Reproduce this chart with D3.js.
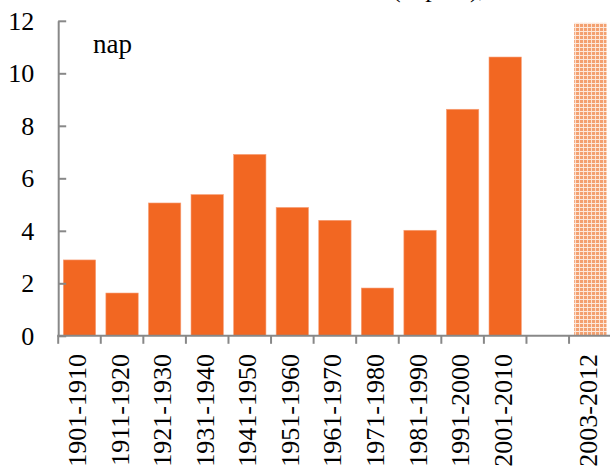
<!DOCTYPE html>
<html>
<head>
<meta charset="utf-8">
<script src="https://cdn.jsdelivr.net/npm/d3@7"></script>
<style>
  body { margin: 0; background: #fff; }
</style>
</head>
<body>
<div class="chart"></div>
<script>
// Data
const periods = ['1901-1910', '1911-1920', '1921-1930', '1931-1940', '1941-1950', '1951-1960',
    '1961-1970', '1971-1980', '1981-1990', '1991-2000', '2001-2010', '', '2003-2012'];
const values = [2.89, 1.63, 5.06, 5.38, 6.91, 4.89, 4.40, 1.82, 4.02, 8.63, 10.62, null, 11.92];
const hatched = ['2003-2012'];
const yTicks = [0, 2, 4, 6, 8, 10, 12];

const width = 610, height = 468;
const margin = { top: 20.8, left: 58.2, bottom: 132.2 };
const step = 42.57;
const serif = 'Liberation Serif';

const svg = d3.select('.chart').append('svg')
    .attr('width', width)
    .attr('height', height);

// hatched fill for the last bar
const pat = svg.append('defs').append('pattern')
    .attr('id', 'hatch')
    .attr('patternUnits', 'userSpaceOnUse')
    .attr('width', 4).attr('height', 4);
pat.append('rect').attr('width', 4).attr('height', 4).attr('fill', '#f3a070');
pat.append('rect').attr('x', 3).attr('width', 1).attr('height', 4).attr('fill', '#fbe0cf');
pat.append('rect').attr('y', 3).attr('width', 4).attr('height', 1).attr('fill', '#fde9dc');

// Scales
const x = d3.scaleBand()
    .domain(periods)
    .range([margin.left, margin.left + step * periods.length])
    .paddingInner(0.24)
    .paddingOuter(0.12);
const y = d3.scaleLinear().domain([0, 12]).range([height - margin.bottom, margin.top]);

// Bars
svg.selectAll('.bar')
    .data(periods.map((p, i) => ({ p, v: values[i] })).filter(d => d.v != null))
    .join('rect')
    .attr('class', 'bar')
    .attr('x', d => x(d.p))
    .attr('y', d => y(d.v))
    .attr('width', x.bandwidth())
    .attr('height', d => y(0) - y(d.v))
    .attr('fill', d => hatched.includes(d.p) ? 'url(#hatch)' : '#f26722')
    .attr('stroke', d => hatched.includes(d.p) ? 'none' : '#f7a17a')
    .attr('stroke-width', 0.6);

// Y axis (ticks point inward)
const yAxis = svg.append('g')
    .attr('transform', `translate(${margin.left},0)`)
    .call(d3.axisLeft(y).tickValues(yTicks).tickSize(-8).tickPadding(24).tickSizeOuter(0))
    .attr('font-family', serif)
    .attr('font-size', 26);
yAxis.select('.domain').attr('stroke', '#888').attr('stroke-width', 2);
yAxis.selectAll('.tick line').attr('stroke', '#888').attr('stroke-width', 2);
yAxis.selectAll('.tick text').attr('fill', '#000');

// X axis line and boundary ticks
const x0 = y(0);
svg.append('line')
    .attr('x1', margin.left - 1).attr('x2', width)
    .attr('y1', x0).attr('y2', x0)
    .attr('stroke', '#888').attr('stroke-width', 2);
const bounds = periods.map(p => x(p) - x.step() * 0.12);
svg.selectAll('.xtick')
    .data(bounds)
    .join('line')
    .attr('x1', d => d).attr('x2', d => d)
    .attr('y1', x0).attr('y2', x0 + 8)
    .attr('stroke', '#888').attr('stroke-width', 2);

// Category labels (rotated)
svg.selectAll('.xlabel')
    .data(periods)
    .join('text')
    .attr('transform', d => `translate(${x(d) + x.bandwidth() / 2 - 2},354) rotate(-90)`)
    .attr('text-anchor', 'end')
    .attr('dy', '0.33em')
    .attr('font-family', serif)
    .attr('font-size', 26)
    .text(d => d);

// In-plot label
svg.append('text')
    .attr('x', 93).attr('y', 53)
    .attr('font-family', serif)
    .attr('font-size', 27)
    .text('nap');

// Title cut off at the top edge
svg.append('text')
    .attr('x', 392).attr('y', -3)
    .attr('font-family', serif)
    .attr('font-size', 26)
    .text('(nap/év),');
</script>
</body>
</html>
